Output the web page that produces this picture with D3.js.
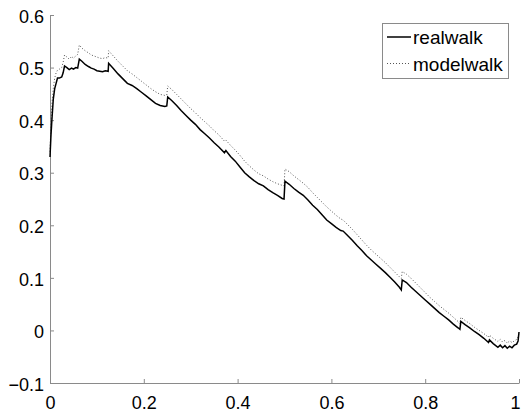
<!DOCTYPE html>
<html>
<head>
<meta charset="utf-8">
<script src="https://cdn.jsdelivr.net/npm/d3@7"></script>
<style>
  body { margin: 0; background: #fff; }
  svg { display: block; }
  .axis text { font-family: "Liberation Sans", Arial, sans-serif; font-size: 18px; fill: #000; }
  .axis path, .axis line { stroke: #8a8a8a; }
  .legend text { font-family: "Liberation Sans", Arial, sans-serif; font-size: 19px; fill: #000; }
</style>
</head>
<body>
<svg id="chart"></svg>
<script>
// shared positions along the walk (0..1)
let positions = [
    0, 0.002, 0.004, 0.007, 0.010, 0.013, 0.016, 0.020, 0.025, 0.028,
    0.031, 0.036, 0.041, 0.046, 0.050, 0.055, 0.059, 0.0625, 0.068, 0.075,
    0.082, 0.088, 0.094, 0.100, 0.106, 0.112, 0.118, 0.124, 0.125, 0.135,
    0.145, 0.155, 0.165, 0.175, 0.185, 0.195, 0.205, 0.215, 0.225, 0.235,
    0.245, 0.249, 0.251, 0.26, 0.27, 0.28, 0.29, 0.30, 0.31, 0.32,
    0.33, 0.34, 0.35, 0.36, 0.372, 0.375, 0.385, 0.395, 0.405, 0.415,
    0.425, 0.435, 0.445, 0.455, 0.465, 0.475, 0.485, 0.495, 0.499, 0.501,
    0.51, 0.52, 0.53, 0.54, 0.55, 0.56, 0.57, 0.58, 0.59, 0.60,
    0.61, 0.62, 0.625, 0.635, 0.645, 0.655, 0.665, 0.675, 0.685, 0.695,
    0.705, 0.715, 0.725, 0.735, 0.745, 0.749, 0.751, 0.76, 0.77, 0.78,
    0.79, 0.80, 0.81, 0.82, 0.83, 0.84, 0.85, 0.86, 0.87, 0.874,
    0.876, 0.885, 0.895, 0.905, 0.915, 0.925, 0.935, 0.937, 0.945, 0.955,
    0.96, 0.965, 0.97, 0.975, 0.98, 0.985, 0.99, 0.995, 0.998, 1.0
];

let realwalk = [
    0.33, 0.37, 0.40, 0.44, 0.46, 0.47, 0.48, 0.48, 0.482, 0.49,
    0.503, 0.500, 0.496, 0.499, 0.497, 0.500, 0.499, 0.516, 0.512, 0.506,
    0.502, 0.499, 0.497, 0.494, 0.493, 0.492, 0.494, 0.493, 0.508, 0.498,
    0.488, 0.479, 0.470, 0.466, 0.460, 0.453, 0.446, 0.439, 0.432, 0.428,
    0.426, 0.427, 0.444, 0.437, 0.428, 0.418, 0.409, 0.400, 0.392, 0.382,
    0.374, 0.366, 0.357, 0.349, 0.338, 0.342, 0.331, 0.322, 0.311, 0.300,
    0.292, 0.285, 0.279, 0.275, 0.268, 0.262, 0.257, 0.251, 0.250, 0.284,
    0.278, 0.270, 0.263, 0.257, 0.248, 0.238, 0.230, 0.220, 0.210, 0.203,
    0.196, 0.190, 0.189, 0.180, 0.171, 0.161, 0.152, 0.142, 0.134, 0.126,
    0.118, 0.110, 0.101, 0.092, 0.082, 0.077, 0.096, 0.091, 0.082, 0.074,
    0.066, 0.058, 0.050, 0.042, 0.034, 0.027, 0.020, 0.012, 0.005, 0.002,
    0.017, 0.011, 0.005, -0.002, -0.008, -0.015, -0.023, -0.018, -0.025, -0.032,
    -0.028, -0.033, -0.029, -0.034, -0.030, -0.033, -0.028, -0.026, -0.020, -0.003
];

let modelwalk = [
    0.34, 0.39, 0.43, 0.46, 0.48, 0.49, 0.495, 0.497, 0.500, 0.51,
    0.524, 0.520, 0.516, 0.521, 0.518, 0.522, 0.525, 0.543, 0.537, 0.532,
    0.528, 0.524, 0.522, 0.520, 0.518, 0.517, 0.519, 0.518, 0.532, 0.522,
    0.512, 0.503, 0.494, 0.488, 0.481, 0.474, 0.467, 0.460, 0.454, 0.449,
    0.447, 0.448, 0.465, 0.458, 0.449, 0.440, 0.431, 0.422, 0.414, 0.405,
    0.397, 0.389, 0.380, 0.372, 0.360, 0.362, 0.352, 0.343, 0.333, 0.322,
    0.313, 0.305, 0.298, 0.294, 0.288, 0.283, 0.279, 0.276, 0.275, 0.307,
    0.302, 0.294, 0.287, 0.280, 0.272, 0.262, 0.253, 0.244, 0.235, 0.227,
    0.219, 0.212, 0.210, 0.201, 0.192, 0.182, 0.172, 0.162, 0.153, 0.145,
    0.137, 0.129, 0.120, 0.111, 0.102, 0.099, 0.112, 0.107, 0.099, 0.090,
    0.081, 0.072, 0.063, 0.055, 0.047, 0.040, 0.033, 0.025, 0.017, 0.013,
    0.025, 0.019, 0.013, 0.006, 0.000, -0.006, -0.013, -0.009, -0.015, -0.021,
    -0.017, -0.022, -0.019, -0.024, -0.020, -0.023, -0.020, -0.017, -0.012, -0.005
];

let xTicks = [0, 0.2, 0.4, 0.6, 0.8, 1];
let yTicks = [-0.1, 0, 0.1, 0.2, 0.3, 0.4, 0.5, 0.6];
let seriesNames = ['realwalk', 'modelwalk'];

let width = 521, height = 413;
let margin = {top: 15, right: 2, bottom: 30, left: 50};

let svg = d3.select('#chart')
    .attr('width', width)
    .attr('height', height);

let xScale = d3.scaleLinear()
    .domain([0, 1])
    .range([margin.left, width - margin.right]);

let yScale = d3.scaleLinear()
    .domain([-0.1, 0.6])
    .range([height - margin.bottom, margin.top]);

// axes, ticks pointing inward like matlab
let xAxis = d3.axisBottom(xScale)
    .tickValues(xTicks)
    .tickFormat(d => d3.format('')(+d.toFixed(1)))
    .tickSizeInner(-4)
    .tickSizeOuter(0)
    .tickPadding(13);

let yAxis = d3.axisLeft(yScale)
    .tickValues(yTicks)
    .tickFormat(d => d3.format('')(+d.toFixed(1)))
    .tickSizeInner(-4)
    .tickSizeOuter(0)
    .tickPadding(6);

svg.append('g')
    .attr('class', 'x axis')
    .attr('transform', `translate(0, ${height - margin.bottom})`)
    .call(xAxis)
    .selectAll('text')
    // keep the last label inside the window
    .attr('dx', d => d === 1 ? '-4' : null);

svg.append('g')
    .attr('class', 'y axis')
    .attr('transform', `translate(${margin.left}, 0)`)
    .call(yAxis)
    .selectAll('text')
    .attr('dy', '0.4em');

let line = d3.line()
    .x((d, i) => xScale(positions[i]))
    .y(d => yScale(d));

svg.append('path')
    .datum(modelwalk)
    .attr('fill', 'none')
    .attr('stroke', '#555')
    .attr('stroke-width', 1)
    .attr('stroke-dasharray', '1,2')
    .attr('d', line);

svg.append('path')
    .datum(realwalk)
    .attr('fill', 'none')
    .attr('stroke', '#000')
    .attr('stroke-width', 1.5)
    .attr('d', line);

// legend box top right
let legend = svg.append('g').attr('class', 'legend');
legend.append('rect')
    .attr('x', 382.5)
    .attr('y', 23.5)
    .attr('width', 126)
    .attr('height', 55)
    .attr('fill', '#fff')
    .attr('stroke', '#8a8a8a');

seriesNames.forEach((name, i) => {
    let cy = 37 + i * 26.5;
    legend.append('line')
        .attr('x1', 387)
        .attr('x2', 411)
        .attr('y1', cy)
        .attr('y2', cy)
        .attr('stroke', i === 0 ? '#000' : '#555')
        .attr('stroke-width', i === 0 ? 1.5 : 1)
        .attr('stroke-dasharray', i === 0 ? null : '1,2');
    legend.append('text')
        .attr('x', 413)
        .attr('y', cy + 7)
        .text(name);
});
</script>
</body>
</html>
